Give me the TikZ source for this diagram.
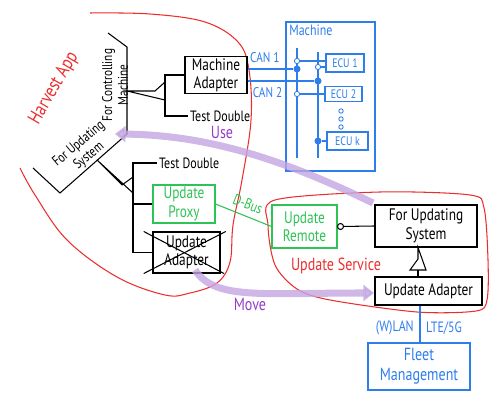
\documentclass[tikz,border=0pt]{standalone}
\usepackage{fontspec}
\setmainfont[FakeStretch=0.8]{PT Sans}
\usetikzlibrary{arrows.meta}
\definecolor{appred}{RGB}{235,45,45}
\definecolor{machblue}{RGB}{45,125,235}
\definecolor{busgreen}{RGB}{45,195,85}
\definecolor{usepurple}{RGB}{150,60,200}
\definecolor{trail}{RGB}{195,165,225}
\begin{document}
\begin{tikzpicture}[x=0.02cm,y=-0.02cm,font=\fontsize{8.5}{9.5}\selectfont,
  box/.style={draw,line width=0.6pt,align=center,inner sep=1pt,font=\fontsize{9.5}{10.5}\selectfont},
  bluebox/.style={box,draw=machblue,text=machblue},
  greenbox/.style={box,draw=busgreen,text=busgreen},
  line/.style={line width=0.6pt},
  busline/.style={line width=0.6pt,machblue},
  dot/.style={circle,fill=machblue,inner sep=0pt,minimum size=4pt},
  odot/.style={circle,draw=machblue,fill=white,line width=0.5pt,inner sep=0pt,minimum size=3pt},
  trailarrow/.style={line width=4pt,draw=trail,opacity=0.8,-{Triangle[length=6pt,width=9pt]}}]
  \useasboundingbox (0,0) rectangle (500,404);
  % harvest app
  \draw[appred,line width=0.6pt] plot[smooth,tension=0.6] coordinates {(90,13) (150,14) (205,22) (238,42) (249,70) (251,120) (242,180) (233,225) (230,262) (217,283) (190,293) (165,295) (117,277) (67,240) (35,195) (20,168)};
  \node[appred,rotate=60,font=\fontsize{11}{12}\selectfont] (app) at (54,88) {Harvest App};
  % hexagon
  \coordinate (h1) at (108,33);
  \coordinate (h2) at (127,47);
  \coordinate (h3) at (127,134);
  \coordinate (h4) at (60,193);
  \coordinate (h5) at (33,168);
  \draw[line] (h1) -- (h2) -- (h3) -- (h4) -- (h5);
  \node[rotate=90,align=center,font=\fontsize{8}{9}\selectfont] (fcm) at (115,85) {For Controlling\\Machine};
  \node[rotate=40,align=center,font=\fontsize{8}{9}\selectfont] (fus) at (84,150) {For Updating\\System};
  % controlling side
  \node[box,minimum width=1.24cm,minimum height=0.62cm] (madapt) at (216,75) {Machine\\Adapter};
  \node[anchor=west,inner sep=1pt] (td1) at (188,116) {Test Double};
  \coordinate (e1) at (127,91);
  \coordinate (t1) at (155,91);
  \draw[line] (e1) -- (t1) -- (165,82) -- (165,100) -- cycle;
  \draw[line] (madapt.west) -| (165,116) -- (td1.west);
  % machine
  \node[bluebox,minimum width=1.78cm,minimum height=2.98cm] (machine) at (330.5,96.5) {};
  \node[machblue,anchor=north west,inner sep=2pt] (mlabel) at (machine.north west) {Machine};
  \node[bluebox,minimum width=0.76cm,minimum height=0.36cm,font=\fontsize{7}{8}\selectfont] (ecu1) at (345,63) {ECU 1};
  \node[bluebox,minimum width=0.74cm,minimum height=0.3cm,font=\fontsize{7}{8}\selectfont] (ecu2) at (343.5,94) {ECU 2};
  \node[bluebox,minimum width=0.82cm,minimum height=0.36cm,font=\fontsize{7}{8}\selectfont] (ecuk) at (347.5,141) {ECU k};
  \draw[busline] (297,48) -- (297,158);
  \draw[busline] (318,52) -- (318,158);
  \node[dot] (c1) at (297,69) {};
  \node[dot] (c2) at (318,81) {};
  \draw[busline] (madapt.east |- c1) -- (c1) node[pos=0.38,above,font=\fontsize{8}{9}\selectfont] {CAN 1};
  \draw[busline] (madapt.east |- c2) -- (c2) node[pos=0.3,below,font=\fontsize{8}{9}\selectfont] {CAN 2};
  \node[odot] (b11) at (297,61) {};
  \node[odot] (b21) at (318,67) {};
  \node[odot] (b12) at (297,94) {};
  \node[dot] (b2k) at (318,141) {};
  \draw[busline] (b11) -- (b11 -| ecu1.west);
  \draw[busline] (b21) -- (b21 -| ecu1.west);
  \draw[busline] (b12) -- (ecu2.west);
  \draw[busline] (b2k) -- (ecuk.west);
  \foreach \y in {111,119,127}
    \node[odot,minimum size=2.5pt] at (341,\y) {};
  % updating side
  \node[anchor=west,inner sep=1pt] (td2) at (157,163) {Test Double};
  \node[greenbox,minimum width=1.24cm,minimum height=0.76cm] (uproxy) at (184,204) {Update\\Proxy};
  \node[box,minimum width=1.34cm,minimum height=0.82cm] (oldadapt) at (186.5,252.5) {Update\\Adapter};
  \draw[line] ([xshift=-5pt]oldadapt.north west) -- ([xshift=2pt]oldadapt.south east);
  \draw[line] ([xshift=-5pt]oldadapt.south west) -- ([xshift=3pt]oldadapt.north east);
  \coordinate (e2) at (97,160);
  \coordinate (t2) at (122,185);
  \draw[line] (e2) -- (t2) -- (133,177) -- (133,193) -- cycle;
  \draw[line] (td2.west) -| (133,163) |- (oldadapt.west);
  \draw[line] (133,204) -- (uproxy.west);
  % update service
  \draw[appred,line width=0.6pt] plot[smooth cycle,tension=0.5] coordinates {(275,200) (380,192) (470,195) (484,208) (488,260) (487,300) (476,311) (417,312) (330,300) (297,289) (275,265) (268,225)};
  \node[appred,font=\fontsize{10}{11}\selectfont] (svc) at (336,266) {Update Service};
  \node[greenbox,minimum width=1.3cm,minimum height=0.86cm] (uremote) at (304.5,226.5) {Update\\Remote};
  \node[box,minimum width=2.04cm,minimum height=0.84cm] (ufs) at (426,226) {For Updating\\System};
  \node[box,minimum width=2.14cm,minimum height=0.56cm] (uadapt) at (428.5,291) {Update Adapter};
  \node[circle,draw,line width=0.6pt,inner sep=0pt,minimum size=0.12cm] (lolli) at (340.5,226.5) {};
  \draw[line] (lolli) -- (ufs.west);
  \draw[busgreen,line width=0.6pt] (uproxy.east) -- (uremote.west) node[midway,above,sloped] {D-Bus};
  \coordinate (t3) at (418,259);
  \draw[line] (t3 |- ufs.south) -- (t3) -- (410,270) -- (426,270) -- cycle;
  \draw[line] (418,270) -- (t3 |- uadapt.north);
  % fleet
  \node[bluebox,minimum width=2.04cm,minimum height=0.94cm,font=\fontsize{10}{11.5}\selectfont] (fleet) at (419,366.5) {Fleet\\Management};
  \coordinate (wl) at (420,328);
  \draw[busline] (wl |- uadapt.south) -- (wl |- fleet.north);
  \node[machblue,left] (wlan) at (wl) {(W)LAN};
  \node[machblue,right] (lte) at (wl) {LTE/5G};
  % use and move
  \draw[trailarrow] (373,203) .. controls (300,168) and (220,135) .. (115,134);
  \node[usepurple,font=\fontsize{10}{11}\selectfont] (use) at (222,132) {Use};
  \draw[trailarrow] (195,270) .. controls (215,300) and (260,293) .. (374,293);
  \node[usepurple,font=\fontsize{10}{11}\selectfont] (move) at (250,304) {Move};
\end{tikzpicture}
\end{document}
